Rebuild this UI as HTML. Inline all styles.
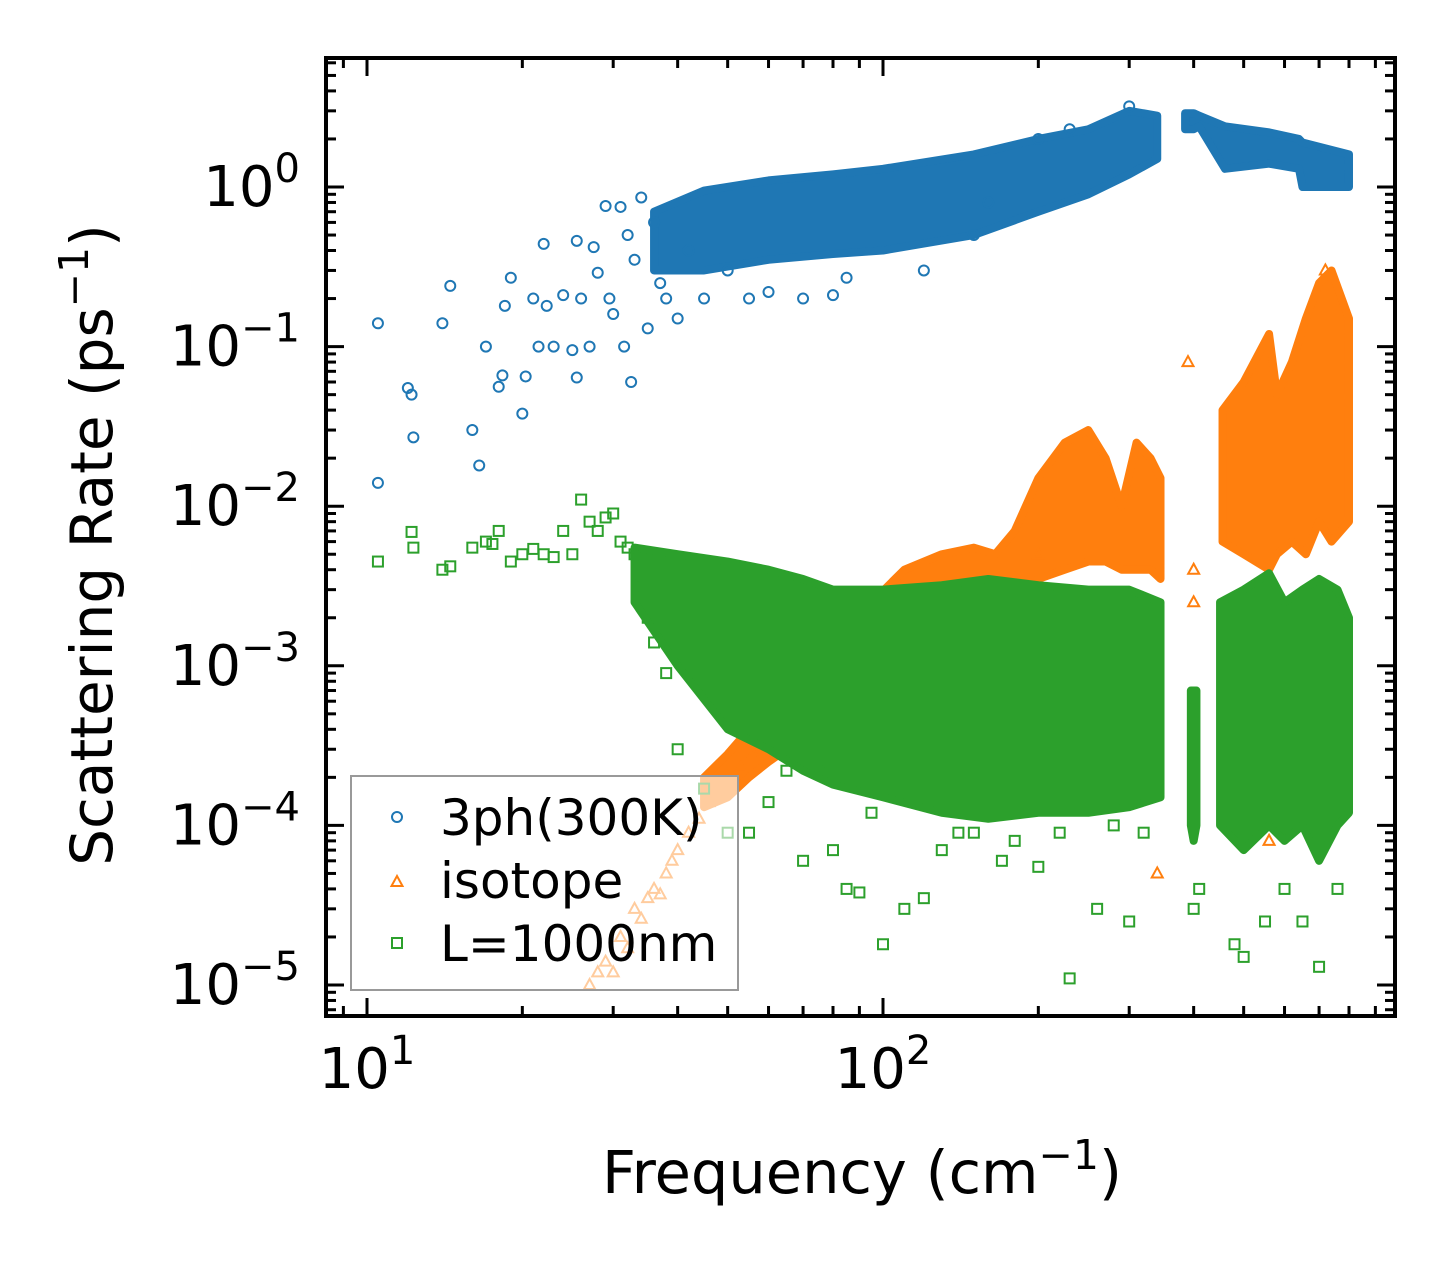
<!DOCTYPE html>
<html><head><meta charset="utf-8"><style>
html,body{margin:0;padding:0;background:#fff;}
svg text{font-family:"DejaVu Sans","Liberation Sans",sans-serif;}
</style></head><body>
<svg id="chart" width="1455" height="1265" xmlns="http://www.w3.org/2000/svg">
<g id="plot"></g>
<g id="axes"></g>
</svg>
<script>
// ---- data ----
const blueX=[10.5,10.5,12,12.2,12.3,14,14.5,16,16.5,17,18,18.3,18.5,19,20,20.3,21,21.5,22,22.3,23,24,25,25.5,25.5,26,27,27.5,28,29,29.5,30,31,31.5,32,32.5,33,34,35,36,37,38,40,42,45,50,55,60,70,80,85,120,160,200,230,300,150];
const blueY=[0.14,0.014,0.055,0.05,0.027,0.14,0.24,0.03,0.018,0.1,0.056,0.066,0.18,0.27,0.038,0.065,0.2,0.1,0.44,0.18,0.1,0.21,0.095,0.46,0.064,0.2,0.1,0.42,0.29,0.76,0.2,0.16,0.75,0.1,0.5,0.06,0.35,0.86,0.13,0.6,0.25,0.2,0.15,0.4,0.2,0.3,0.2,0.22,0.2,0.21,0.27,0.3,0.8,2.0,2.3,3.2,0.5];
const blueBandX=[36,45,60,80,100,150,200,250,300,340];
const blueBandLo=[0.3,0.3,0.35,0.38,0.4,0.5,0.7,0.9,1.2,1.5];
const blueBandHi=[0.7,0.95,1.1,1.2,1.3,1.6,2.0,2.3,3.0,2.8];
const blueBand2X=[385,400,410,460,560,640,650,800];
const blueBand2Lo=[2.3,2.3,2.4,1.3,1.4,1.3,1.0,1.0];
const blueBand2Hi=[2.9,2.9,2.8,2.4,2.2,2.0,1.9,1.6];

const orX=[27,28,29,30,31,32,33,34,35,36,37,38,39,40,42,44,46,48,50,53,56,60,65,70,130,180,200,340,390,400,400,470,560,700,720,750];
const orY=[1e-5,1.2e-5,1.4e-5,1.2e-5,2e-5,1.7e-5,3e-5,2.6e-5,3.5e-5,4e-5,3.7e-5,5e-5,6e-5,7e-5,9e-5,1.1e-4,1.4e-4,1.6e-4,2e-4,2.3e-4,2.8e-4,3.5e-4,4.3e-4,5e-4,3e-3,3.5e-3,5e-3,5e-5,0.08,4e-3,2.5e-3,1.5e-4,8e-5,1.2e-4,0.3,1.8e-3];
const orLowBandX=[45,50,55,60,65,70];
const orLowBandLo=[1.3e-4,1.5e-4,2e-4,2.5e-4,3e-4,3.5e-4];
const orLowBandHi=[2e-4,2.8e-4,4e-4,5e-4,6e-4,7e-4];
const orBandX=[95,110,130,150,165,180,200,225,250,270,290,310,330,345];
const orBandLo=[1e-3,1e-3,1.5e-3,2e-3,2.5e-3,3e-3,3.5e-3,4e-3,4.5e-3,4.5e-3,4e-3,4e-3,4e-3,3.5e-3];
const orBandHi=[2.5e-3,4e-3,5e-3,5.5e-3,5e-3,7e-3,1.5e-2,2.5e-2,3e-2,2e-2,1e-2,2.5e-2,2e-2,1.5e-2];
const orBand2X=[455,500,560,580,620,660,700,740,800];
const orBand2Lo=[6e-3,5e-3,4e-3,5e-3,6e-3,5e-3,8e-3,6e-3,8e-3];
const orBand2Hi=[0.04,0.06,0.12,0.05,0.08,0.15,0.25,0.3,0.15];

const grX=[10.5,12.2,12.3,14,14.5,16,17,17.5,18,19,20,21,22,23,24,25,26,27,28,29,30,31,32,33,34,35,36,38,40,45,50,55,60,70,80,85,90,100,110,120,130,150,170,200,230,260,300,400,410,480,500,550,600,650,700,760,65,75,95,140,180,220,280,320];
const grY=[4.5e-3,6.9e-3,5.5e-3,4e-3,4.2e-3,5.5e-3,6e-3,5.8e-3,7e-3,4.5e-3,5e-3,5.4e-3,5e-3,4.8e-3,7e-3,5e-3,0.011,8e-3,7e-3,8.5e-3,9e-3,6e-3,5.5e-3,5e-3,3.2e-3,2e-3,1.4e-3,9e-4,3e-4,1.7e-4,9e-5,9e-5,1.4e-4,6e-5,7e-5,4e-5,3.8e-5,1.8e-5,3e-5,3.5e-5,7e-5,9e-5,6e-5,5.5e-5,1.1e-5,3e-5,2.5e-5,3e-5,4e-5,1.8e-5,1.5e-5,2.5e-5,4e-5,2.5e-5,1.3e-5,4e-5,2.2e-4,2.5e-4,1.2e-4,9e-5,8e-5,9e-5,1e-4,9e-5];
const grBandX=[33,40,50,60,70,80,100,130,160,200,250,300,345];
const grBandLo=[2.5e-3,1e-3,4e-4,3e-4,2.2e-4,1.8e-4,1.5e-4,1.2e-4,1.1e-4,1.2e-4,1.2e-4,1.3e-4,1.5e-4];
const grBandHi=[5.5e-3,5e-3,4.5e-3,4e-3,3.5e-3,3e-3,3e-3,3.2e-3,3.5e-3,3.2e-3,3e-3,3e-3,2.5e-3];
const grBand2X=[395,400,405];
const grBand2Lo=[1e-4,8e-5,1e-4];
const grBand2Hi=[7e-4,7e-4,7e-4];
const grBand3X=[450,500,560,600,650,700,760,800];
const grBand3Lo=[1e-4,7e-5,1e-4,8e-5,1e-4,6e-5,1e-4,1.2e-4];
const grBand3Hi=[2.5e-3,3e-3,3.8e-3,2.5e-3,3e-3,3.5e-3,3e-3,2e-3];

const xTickVals=[10,100];
const xTickLabels=["1","2"];
const yTickVals=[1,0.1,0.01,1e-3,1e-4,1e-5];
const yTickLabels=["0","\u22121","\u22122","\u22123","\u22124","\u22125"];

// ---- axes ----
const L=326,R=1395,T=58,B=1016;
const sx=v=>367+516*(Math.log10(v)-1);
const sy=v=>187-159.6*Math.log10(v);
const NS="http://www.w3.org/2000/svg";
const plot=document.getElementById('plot'),axes=document.getElementById('axes');
function mk(tag,attrs,parent){const e=document.createElementNS(NS,tag);for(const k in attrs)e.setAttribute(k,attrs[k]);parent.appendChild(e);return e;}

function band(xs,lo,hi,color,name){
  let pts=xs.map((x,i)=>sx(x)+','+sy(hi[i]));
  for(let i=xs.length-1;i>=0;i--)pts.push(sx(xs[i])+','+sy(lo[i]));
  const p=mk('polygon',{points:pts.join(' '),fill:color,stroke:color,'stroke-width':8,'stroke-linejoin':'round'},plot);
  
  
}
function circles(xs,ys,name){xs.forEach((x,i)=>{const c=mk('circle',{cx:sx(x),cy:sy(ys[i]),r:5,fill:'none',stroke:'#1f77b4','stroke-width':2},plot);
  
  });}
function tris(xs,ys,name){xs.forEach((x,i)=>{const X=sx(x),Y=sy(ys[i]);const t=mk('polygon',{points:`${X},${Y-6} ${X-5.5},${Y+4} ${X+5.5},${Y+4}`,fill:'none',stroke:'#ff7f0e','stroke-width':2},plot);
  
  });}
function squares(xs,ys,name){xs.forEach((x,i)=>{const s=mk('rect',{x:sx(x)-5,y:sy(ys[i])-5,width:10,height:10,fill:'none',stroke:'#2ca02c','stroke-width':2},plot);
  
  });}

band(blueBandX,blueBandLo,blueBandHi,'#1f77b4','3ph-dense-band');
band(blueBand2X,blueBand2Lo,blueBand2Hi,'#1f77b4','3ph-high-band');
circles(blueX,blueY,'3ph-point');
band(orLowBandX,orLowBandLo,orLowBandHi,'#ff7f0e','isotope-low-band');
band(orBandX,orBandLo,orBandHi,'#ff7f0e','isotope-dense-band');
band(orBand2X,orBand2Lo,orBand2Hi,'#ff7f0e','isotope-high-band');
tris(orX,orY,'isotope-point');
band(grBandX,grBandLo,grBandHi,'#2ca02c','boundary-dense-band');
band(grBand2X,grBand2Lo,grBand2Hi,'#2ca02c','boundary-spike-band');
band(grBand3X,grBand3Lo,grBand3Hi,'#2ca02c','boundary-high-band');
squares(grX,grY,'boundary-point');

// legend
const lg=mk('g',{},axes);
mk('rect',{x:351,y:776,width:387,height:214,fill:'rgba(255,255,255,0.6)',stroke:'#999','stroke-width':2},lg);
mk('circle',{cx:397,cy:817,r:5,fill:'none',stroke:'#1f77b4','stroke-width':2},lg);
mk('polygon',{points:'397,876 391.5,886 402.5,886',fill:'none',stroke:'#ff7f0e','stroke-width':2},lg);
mk('rect',{x:392,y:938,width:10,height:10,fill:'none',stroke:'#2ca02c','stroke-width':2},lg);
[['3ph(300K)',835,'legend-3ph'],['isotope',898,'legend-isotope'],['L=1000nm',961,'legend-boundary']].forEach(a=>{const t=mk('text',{x:440,y:a[1],'font-size':50},lg);t.textContent=a[0];
  
  });

// frame and ticks
mk('rect',{x:L,y:T,width:R-L,height:B-T,fill:'none',stroke:'#000','stroke-width':4},axes);
function tick(x1,y1,x2,y2){mk('line',{x1,y1,x2,y2,stroke:'#000','stroke-width':3},axes);}
for(let d=0;d<=2;d++)for(let m=1;m<10;m++){const f=10*Math.pow(10,d-1)*m;const X=sx(f);if(X<L||X>R)continue;const len=m===1?18:10;tick(X,B,X,B-len);tick(X,T,X,T+len);}
for(let d=-6;d<=1;d++)for(let m=1;m<10;m++){const v=Math.pow(10,d)*m;const Y=sy(v);if(Y<T||Y>B)continue;const len=m===1?18:10;tick(L,Y,L+len,Y);tick(R,Y,R-len,Y);}
xTickVals.forEach((v,i)=>{const t=mk('text',{x:sx(v),y:1088,'font-size':56,'text-anchor':'middle'},axes);t.innerHTML='10<tspan dy="-24" font-size="40">'+xTickLabels[i]+'</tspan>';
  
  });
yTickVals.forEach((v,i)=>{const t=mk('text',{x:300,y:sy(v)+19,'font-size':56,'text-anchor':'end'},axes);t.innerHTML='10<tspan dy="-24" font-size="40">'+yTickLabels[i]+'</tspan>';
  
  });
const xl=mk('text',{x:862,y:1193,'font-size':59,'text-anchor':'middle'},axes);xl.innerHTML='Frequency (cm<tspan dy="-24" font-size="41">\u22121</tspan><tspan dy="24">)</tspan>';


const yl=mk('text',{x:0,y:0,'font-size':58,'text-anchor':'middle',transform:'translate(112,545) rotate(-90)'},axes);yl.innerHTML='Scattering Rate (ps<tspan dy="-24" font-size="41">\u22121</tspan><tspan dy="24">)</tspan>';


</script>
</body></html>
